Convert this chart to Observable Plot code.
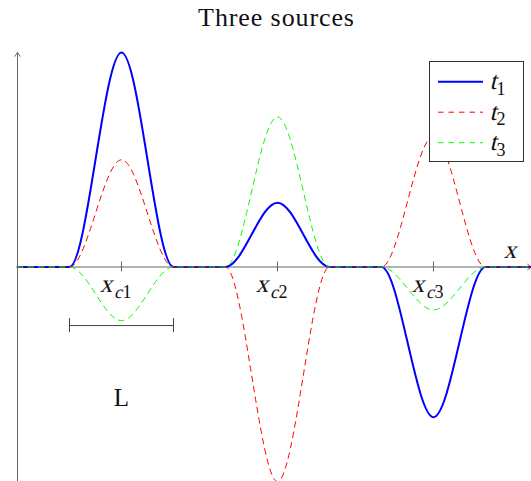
<!DOCTYPE html>
<html>
<head>
<meta charset="utf-8">
<script src="https://cdn.jsdelivr.net/npm/d3@7"></script>
<script src="https://cdn.jsdelivr.net/npm/@observablehq/plot@0.6"></script>
<style>
  body { margin: 0; background: #fff; }
  #wrap { position: relative; width: 531px; height: 481px; overflow: hidden; font-family: 'Liberation Serif'; }
  #title { position: absolute; left: 22px; top: 0; width: 509px; text-align: center; font-size: 26px; line-height: 36px; letter-spacing: 0.9px; color: #111; z-index: 2; }
  #chart { position: absolute; left: 0; top: 0; }
  #legend { position: absolute; left: 429px; top: 61px; z-index: 3; }
</style>
</head>
<body>
<div id="wrap">
  <div id="title"></div>
  <div id="chart"></div>
  <div id="legend"></div>
</div>
<script>
// ---- data ----
const titleText = "Three sources";
const centers = [2, 5, 8];            // x positions of the three sources (x_c1, x_c2, x_c3)
const sourceWidth = 2;                 // L
const tickLabels = ["x_c1", "x_c2", "x_c3"];
const xRange = [0, 9.885];
const yRange = [-1, 1];
const seriesNames = ["t_1", "t_2", "t_3"];
const seriesColors = ["#0000ff", "#ff0000", "#00ff00"];
const seriesDash = [null, "5.5,5", "5.5,5"];
const seriesWidth = [2, 1, 1];
const t1Peaks = [1.00, 0.30, -0.70];
const t2Peaks = [0.50, -1.00, 0.61];
const t3Peaks = [-0.25, 0.70, -0.20];
const lBarY = -0.273;
const lLabelY = -0.646;
const axisLabel = "x";
const axisLabelX = 9.48;
const FONT = "Liberation Serif";

document.getElementById("title").textContent = titleText;

// line tables built from the read peaks (zero outside each source)
function bumps(peaks) {
  const pts = [{x: xRange[0], y: 0}];
  centers.forEach((c, i) => {
    pts.push({x: c - sourceWidth / 2, y: 0});
    pts.push({x: c, y: peaks[i]});
    pts.push({x: c + sourceWidth / 2, y: 0});
  });
  pts.push({x: xRange[1], y: 0});
  return pts;
}
const seriesData = [bumps(t1Peaks), bumps(t2Peaks), bumps(t3Peaks)];

const axes = [
  {x1: xRange[0], y1: 0, x2: xRange[1], y2: 0},
  {x1: 0, y1: yRange[0], x2: 0, y2: yRange[1]}
];
const lBar = [{x1: centers[0] - sourceWidth / 2, x2: centers[0] + sourceWidth / 2, y: lBarY}];
const axisColor = "#666";

const plot = Plot.plot({
  width: 531, height: 481,
  marginLeft: 17, marginRight: 0, marginTop: 52, marginBottom: 0,
  x: {domain: xRange, axis: null},
  y: {domain: yRange, axis: null},
  style: {fontFamily: FONT, background: "transparent", color: "#111"},
  marks: [
    Plot.arrow(axes, {x1: "x1", y1: "y1", x2: "x2", y2: "y2", stroke: axisColor, strokeWidth: 1, headLength: 7, headAngle: 70}),
    Plot.ruleX(centers, {x: d => d, y1: () => 0, y2: () => 0, insetTop: -5, insetBottom: -5, stroke: axisColor, strokeWidth: 1}),
    ...seriesData.map((data, i) => Plot.line(data, {
      x: "x", y: "y", curve: "monotone-x",
      stroke: seriesColors[i], strokeWidth: seriesWidth[i],
      strokeDasharray: seriesDash[i] || undefined
    })),
    Plot.ruleY(lBar, {y: "y", x1: "x1", x2: "x2", stroke: "#444", strokeWidth: 1}),
    Plot.ruleX(lBar.flatMap(d => [d.x1, d.x2]), {x: d => d, y1: () => lBarY, y2: () => lBarY, insetTop: -7, insetBottom: -7, stroke: "#444", strokeWidth: 1}),
    Plot.text(["L"], {x: () => centers[0], y: () => lLabelY, text: d => d, lineAnchor: "bottom", fontSize: 25, fill: "#111", fontFamily: FONT})
  ]
});
document.getElementById("chart").appendChild(plot);
d3.select(plot).selectAll("text").attr("font-family", FONT);

// math labels: variable letters slanted (serif), subscripts smaller and lowered
const SKEW = -14;
function mathLabel(parent, px, py, str, size, anchor) {
  const m = str.match(/^([A-Za-z])_?([A-Za-z]?)(\d*)$/);
  const g = parent.append("g").attr("transform", `translate(${px},${py})`);
  const sub = size * 0.72, subDy = size * 0.22;
  const parts = [{s: m[1], size: size, dy: 0, italic: true, gap: 0}];
  if (m[2]) parts.push({s: m[2], size: sub, dy: subDy, italic: true, gap: -0.5});
  if (m[3]) parts.push({s: m[3], size: sub, dy: subDy, italic: false, gap: m[2] ? 1 : 0});
  let cx = 0;
  parts.forEach(p => {
    cx += p.gap;
    const t = g.append("text").attr("font-family", FONT).attr("font-size", p.size).attr("fill", "#111")
      .attr("transform", `translate(${cx},${p.dy})` + (p.italic ? ` skewX(${SKEW})` : ""))
      .text(p.s);
    cx += t.node().getComputedTextLength();
  });
  if (anchor === "middle") g.attr("transform", `translate(${px - cx / 2},${py})`);
}

const sx = plot.scale("x"), sy = plot.scale("y");
const X = d3.scaleLinear(sx.domain, sx.range);
const Y = d3.scaleLinear(sy.domain, sy.range);
const svgSel = d3.select(plot);
centers.forEach((c, i) => mathLabel(svgSel, X(c), Y(0) + 25.5, tickLabels[i], 25, "middle"));
mathLabel(svgSel, X(axisLabelX), Y(0) - 9, axisLabel, 25, "start");

// legend
const lg = d3.select("#legend").append("svg").attr("width", 95).attr("height", 101);
lg.append("rect").attr("x", 0.5).attr("y", 0.5).attr("width", 94).attr("height", 100)
  .attr("fill", "#fff").attr("stroke", "#333").attr("stroke-width", 1);
seriesNames.forEach((name, i) => {
  const yy = 20.7 + i * 30.5;
  lg.append("line").attr("x1", 9).attr("x2", 54).attr("y1", yy).attr("y2", yy)
    .attr("stroke", seriesColors[i]).attr("stroke-width", seriesWidth[i])
    .attr("stroke-dasharray", seriesDash[i]);
  mathLabel(lg, 60.5, yy + 7.5, name, 25, "start");
});
</script>
</body>
</html>
